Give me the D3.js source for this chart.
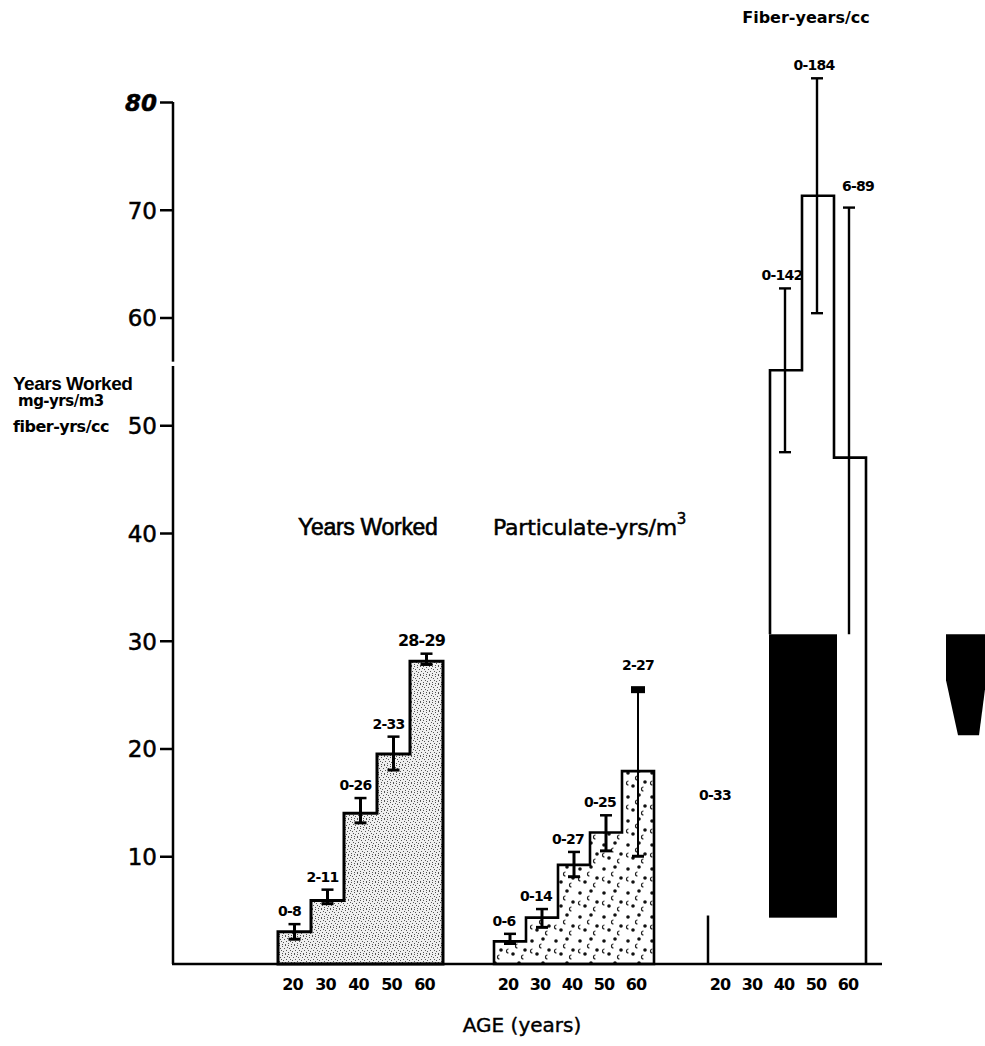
<!DOCTYPE html>
<html>
<head>
<meta charset="utf-8">
<script src="https://cdn.jsdelivr.net/npm/d3@7/dist/d3.min.js"></script>
<style>
  body { margin: 0; background: #fff; }
  svg { display: block; }
</style>
</head>
<body>
<script>
'use strict';

// y axis ticks and age bins
const yTicks = [10, 20, 30, 40, 50, 60, 70, 80];
const ages = [20, 30, 40, 50, 60];

// years worked
const workedValues = [3.0, 5.9, 14.0, 19.5, 28.1];
const workedLow = [2.3, 5.6, 13.1, 18.0, 27.8];
const workedHigh = [3.7, 6.9, 15.4, 21.1, 28.8];
const workedRanges = ["0-8", "2-11", "0-26", "2-33", "28-29"];

// particulate-yrs/m3
const partValues = [2.1, 4.3, 9.2, 12.2, 17.9];
const partLow = [1.9, 3.4, 8.1, 10.5, 10.0];
const partHigh = [2.8, 5.1, 10.4, 13.8, 25.6];
const partRanges = ["0-6", "0-14", "0-27", "0-25", "2-27"];

// fiber-years/cc (20 and 30 mostly lost in the scan)
const fiberAges = [40, 50, 60];
const fiberValues = [55.1, 71.3, 47.0];
const fiberLow = [47.5, 60.4, 30.6];
const fiberHigh = [62.7, 82.2, 70.2];
const fiberRanges = ["0-142", "0-184", "6-89"];
const fiber20Value = 4.5;
const fiber20High = 14.5;
const fiber20Range = "0-33";

(function() {

  let svg = "";
  let yScale = "";

  window.onload = function() {
    svg = d3.select('body')
      .append('svg')
      .attr('width', 985)
      .attr('height', 1046);

    makePatterns();

    yScale = d3.scaleLinear()
      .domain([0, 80])
      .range([964, 102]);

    drawYAxis();

    let xWorked = d3.scaleBand().domain(ages).range([278, 443]);
    let xPart = d3.scaleBand().domain(ages).range([494, 654]);
    let xFiber = d3.scaleBand().domain(ages).range([706, 866]);

    drawStepGroup(xWorked, workedValues, 'url(#stipple)', 3);
    drawErrorBars(xWorked, ages, workedLow, workedHigh, workedRanges, -5, false);

    drawStepGroup(xPart, partValues, 'url(#dots)', 2.6);
    drawErrorBars(xPart, ages, partLow, partHigh, partRanges, -6, true);

    drawFiber(xFiber);

    drawXAxis([xWorked, xPart, xFiber]);
    drawLabels();
  }

  // fill patterns for the first two histograms
  function makePatterns() {
    let defs = svg.append('defs');

    let stipple = defs.append('pattern')
      .attr('id', 'stipple')
      .attr('width', 9)
      .attr('height', 9)
      .attr('patternUnits', 'userSpaceOnUse');
    stipple.append('rect').attr('width', 9).attr('height', 9).attr('fill', '#efefef');
    let specks = [[0, 0], [3, 1], [6, 0], [1, 3], [5, 3], [8, 2], [2, 5], [7, 5], [4, 6], [0, 7], [6, 8], [3, 8]];
    stipple.selectAll('rect.s')
      .data(specks)
      .enter()
      .append('rect')
        .attr('class', 's')
        .attr('x', d => d[0])
        .attr('y', d => d[1])
        .attr('width', 1)
        .attr('height', 1)
        .attr('fill', '#555');

    let dots = defs.append('pattern')
      .attr('id', 'dots')
      .attr('width', 24)
      .attr('height', 24)
      .attr('patternUnits', 'userSpaceOnUse');
    dots.append('rect').attr('width', 24).attr('height', 24).attr('fill', '#fff');
    let blobs = [[4, 5], [15, 3], [21, 14], [9, 18]];
    dots.selectAll('circle')
      .data(blobs)
      .enter()
      .append('circle')
        .attr('cx', d => d[0])
        .attr('cy', d => d[1])
        .attr('r', 1.8)
        .attr('fill', '#111');
    let hooks = [[12, 10], [3, 15], [18, 21]];
    dots.selectAll('path')
      .data(hooks)
      .enter()
      .append('path')
        .attr('d', d => 'M' + (d[0] + 1.5) + ',' + (d[1] - 2) + ' A2,2 0 1,0 ' + (d[0] + 1.5) + ',' + (d[1] + 2))
        .attr('fill', 'none')
        .attr('stroke', '#222')
        .attr('stroke-width', 1.2);
  }

  // y axis with the little gap the original has
  function drawYAxis() {
    let yAxis = d3.axisLeft(yScale)
      .tickValues(yTicks)
      .tickSize(13)
      .tickSizeOuter(0)
      .tickPadding(3);

    let g = svg.append('g')
      .attr('transform', 'translate(173, 0)')
      .call(yAxis);

    g.select('.domain')
      .attr('stroke', '#000')
      .attr('stroke-width', 2.5)
      .attr('d', 'M0,' + yScale(80) + 'V' + yScale(0));
    g.selectAll('.tick line')
      .attr('stroke', '#000')
      .attr('stroke-width', 2.5);
    g.selectAll('.tick text')
      .attr('fill', '#000')
      .attr('stroke', '#000')
      .attr('stroke-width', 0.5)
      .style('font-family', '"DejaVu Sans", sans-serif')
      .style('font-size', '23px')
      .attr('dy', '0.36em')
      .style('font-style', d => d == 80 ? 'italic' : 'normal')
      .style('font-weight', d => d == 80 ? 'bold' : 'normal');

    // scan gap in the axis line
    svg.append('rect')
      .attr('x', 170)
      .attr('y', yScale(55.9))
      .attr('width', 8)
      .attr('height', yScale(55.5) - yScale(55.9))
      .attr('fill', '#fff');
  }

  // step outline histogram for one group
  function drawStepGroup(x, values, fill, width) {
    let pts = [[x(ages[0]), yScale(0)]];
    ages.forEach((a, i) => {
      pts.push([x(a), yScale(values[i])]);
      pts.push([x(a) + x.bandwidth(), yScale(values[i])]);
    });
    pts.push([x(ages[ages.length - 1]) + x.bandwidth(), yScale(0)]);

    let line = d3.line();
    svg.append('path')
      .attr('d', line(pts) + 'Z')
      .attr('fill', fill)
      .attr('stroke', '#000')
      .attr('stroke-width', width)
      .attr('stroke-linejoin', 'miter');
  }

  // shared style for the small range labels
  function rangeLabel(sel, size) {
    return sel
      .attr('text-anchor', 'middle')
      .style('font-family', '"DejaVu Sans", sans-serif')
      .style('font-weight', 'bold')
      .style('font-size', size)
      .style('letter-spacing', '-0.8px');
  }

  // vertical range bars with caps and the range labels
  function drawErrorBars(x, keys, low, high, labels, dx, blockLast) {
    let g = svg.append('g');
    keys.forEach((a, i) => {
      let cx = x(a) + x.bandwidth() / 2;
      let last = blockLast && i == keys.length - 1;
      g.append('line')
        .attr('x1', cx).attr('x2', cx)
        .attr('y1', yScale(low[i])).attr('y2', yScale(high[i]))
        .attr('stroke', '#000')
        .attr('stroke-width', last ? 2 : 3);
      if (last) {
        g.append('rect')
          .attr('x', cx - 7)
          .attr('y', yScale(high[i]) - 2)
          .attr('width', 14)
          .attr('height', 7)
          .attr('fill', '#000');
      } else {
        g.append('line')
          .attr('x1', cx - 6).attr('x2', cx + 6)
          .attr('y1', yScale(high[i])).attr('y2', yScale(high[i]))
          .attr('stroke', '#000').attr('stroke-width', 2.5);
      }
      g.append('line')
        .attr('x1', cx - 6).attr('x2', cx + 6)
        .attr('y1', yScale(low[i])).attr('y2', yScale(low[i]))
        .attr('stroke', '#000').attr('stroke-width', 3);
      g.append('text')
        .attr('x', cx + (last ? 0 : dx))
        .attr('y', yScale(high[i]) - (last ? 18 : 8))
        .call(rangeLabel, labels[i] == '28-29' ? '16px' : '14px')
        .text(labels[i]);
    });
  }

  // the third histogram, partly blacked out in the original scan
  function drawFiber(x) {
    let maskTop = fiberLow[2];
    let maskBottom = 4.3;
    let pts = [[x(40), yScale(maskTop)]];
    fiberAges.forEach((a, i) => {
      pts.push([x(a), yScale(fiberValues[i])]);
      pts.push([x(a) + x.bandwidth(), yScale(fiberValues[i])]);
    });
    pts.push([x(60) + x.bandwidth(), yScale(0)]);

    svg.append('path')
      .attr('d', d3.line()(pts))
      .attr('fill', 'none')
      .attr('stroke', '#000')
      .attr('stroke-width', 2.6);

    // left edge of the 20 bar
    svg.append('line')
      .attr('x1', x(20) + 2).attr('x2', x(20) + 2)
      .attr('y1', yScale(0)).attr('y2', yScale(fiber20Value))
      .attr('stroke', '#000')
      .attr('stroke-width', 2.5);

    svg.append('text')
      .attr('x', x(20) + x.bandwidth() / 2 - 7)
      .attr('y', yScale(fiber20High) - 8)
      .call(rangeLabel, '14px')
      .text(fiber20Range);

    // range bars
    fiberAges.forEach((a, i) => {
      let cx = x(a) + x.bandwidth() / 2 - 1;
      svg.append('line')
        .attr('x1', cx).attr('x2', cx)
        .attr('y1', yScale(fiberLow[i])).attr('y2', yScale(fiberHigh[i]))
        .attr('stroke', '#000')
        .attr('stroke-width', 2.4);
      svg.append('line')
        .attr('x1', cx - 6).attr('x2', cx + 6)
        .attr('y1', yScale(fiberHigh[i])).attr('y2', yScale(fiberHigh[i]))
        .attr('stroke', '#000').attr('stroke-width', 2.4);
      if (i < 2) {
        svg.append('line')
          .attr('x1', cx - 6).attr('x2', cx + 6)
          .attr('y1', yScale(fiberLow[i])).attr('y2', yScale(fiberLow[i]))
          .attr('stroke', '#000').attr('stroke-width', 2.4);
      }
      svg.append('text')
        .attr('x', cx + (i == 2 ? 9 : -3))
        .attr('y', yScale(fiberHigh[i]) - (i == 2 ? 17 : 8))
        .call(rangeLabel, '14px')
        .text(fiberRanges[i]);
    });

    // blacked out block
    svg.append('rect')
      .attr('x', x(40) - 1)
      .attr('y', yScale(maskTop))
      .attr('width', x.bandwidth() * 2 + 4)
      .attr('height', yScale(maskBottom) - yScale(maskTop))
      .attr('fill', '#000');

    // dark tab at the right page edge
    let tabTop = yScale(maskTop);
    svg.append('path')
      .attr('d', 'M946,' + tabTop + 'H985V' + (tabTop + 55) + 'L979,' + (tabTop + 101) +
        'H958L946,' + (tabTop + 46) + 'Z')
      .attr('fill', '#000');
  }

  // baseline and the age tick labels under each histogram
  function drawXAxis(scales) {
    svg.append('line')
      .attr('x1', 172).attr('x2', 882)
      .attr('y1', yScale(0)).attr('y2', yScale(0))
      .attr('stroke', '#000')
      .attr('stroke-width', 2.5);

    scales.forEach(x => {
      svg.append('g')
        .selectAll('text')
        .data(ages)
        .enter()
        .append('text')
          .attr('x', d => x(d) + x.bandwidth() / 2 - 2)
          .attr('y', 990)
          .attr('text-anchor', 'middle')
          .style('font-family', '"DejaVu Sans", sans-serif')
          .style('font-weight', 'bold')
          .style('font-size', '16px')
          .style('letter-spacing', '-0.8px')
          .text(d => d);
    });
  }

  // titles and axis labels
  function drawLabels() {
    svg.append('text')
      .attr('x', 298)
      .attr('y', 535)
      .attr('stroke', '#000')
      .attr('stroke-width', 0.6)
      .style('font-family', '"Liberation Sans", Arial, sans-serif')
      .style('font-size', '23px')
      .style('letter-spacing', '-0.3px')
      .text('Years Worked');

    let part = svg.append('text')
      .attr('x', 493)
      .attr('y', 535)
      .attr('stroke', '#000')
      .attr('stroke-width', 0.5)
      .style('font-family', '"DejaVu Sans", sans-serif')
      .style('font-size', '22px')
      .style('letter-spacing', '-0.2px')
      .text('Particulate-yrs/m');
    part.append('tspan')
      .attr('dy', -11)
      .style('font-size', '15px')
      .text('3');

    svg.append('text')
      .attr('x', 806)
      .attr('y', 23)
      .attr('text-anchor', 'middle')
      .style('font-family', '"DejaVu Sans", sans-serif')
      .style('font-weight', 'bold')
      .style('font-size', '16px')
      .style('letter-spacing', '0px')
      .text('Fiber-years/cc');

    svg.append('text')
      .attr('x', 522)
      .attr('y', 1032)
      .attr('text-anchor', 'middle')
      .attr('stroke', '#000')
      .attr('stroke-width', 0.4)
      .style('font-family', '"DejaVu Sans", sans-serif')
      .style('font-size', '20px')
      .text('AGE (years)');

    // stacked y axis title
    let yTitle = [
      {t: 'Years Worked', x: 13, y: 390, f: '"Liberation Sans", Arial, sans-serif', s: '19px'},
      {t: 'mg-yrs/m3', x: 18, y: 406, f: '"DejaVu Sans", sans-serif', s: '15px'},
      {t: 'fiber-yrs/cc', x: 13, y: 432, f: '"DejaVu Sans", sans-serif', s: '16px'}
    ];
    svg.selectAll('text.ytitle')
      .data(yTitle)
      .enter()
      .append('text')
        .attr('class', 'ytitle')
        .attr('x', d => d.x)
        .attr('y', d => d.y)
        .style('font-family', d => d.f)
        .style('font-size', d => d.s)
        .style('font-weight', 'bold')
        .style('letter-spacing', '-0.5px')
        .text(d => d.t);
  }
})();
</script>
</body>
</html>
